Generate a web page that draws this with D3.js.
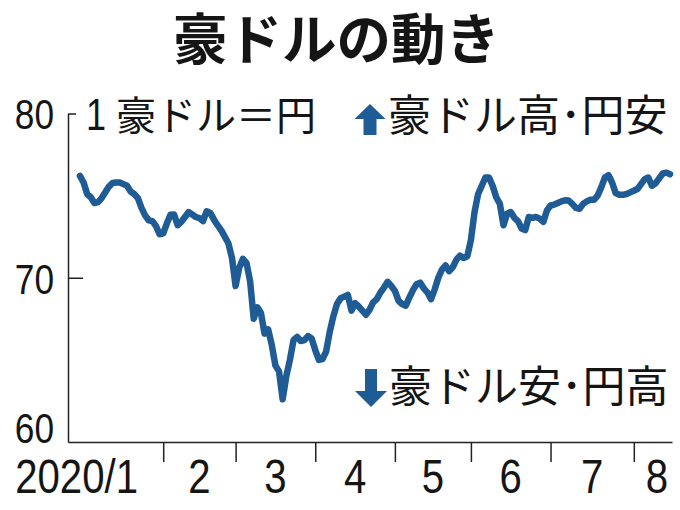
<!DOCTYPE html>
<html><head><meta charset="utf-8">
<script src="https://cdn.jsdelivr.net/npm/d3@7"></script>
<style>body{margin:0;background:#fff}</style>
</head><body><svg id="c" width="680" height="510"></svg>
<script>
const titleText = "豪ドルの動き";
const unitNum = "1";
const unitText = "豪ドル＝円";
const upText = "豪ドル高･円安";
const downText = "豪ドル安･円高";
const yTicks = [60, 70, 80];
const monthLabels = ["2020/1", "2", "3", "4", "5", "6", "7", "8"];
// AUD/JPY daily (weekday) closes from 2020-01-01
const rates = [
76.2,75.8,75.1,74.9,74.55,74.6,74.85,75.2,75.55,75.77,
75.8,75.8,75.7,75.6,75.25,75.1,74.85,74.25,73.8,73.5,
73.45,73.15,72.65,72.7,73.3,73.83,73.85,73.2,73.4,73.7,
74.0,73.85,73.7,73.63,73.45,74.05,73.95,73.55,73.2,72.9,
72.5,72.1,71.2,69.5,70.6,71.15,70.9,69.8,67.5,68.2,
67.85,66.6,66.85,65.9,64.65,64.3,62.6,64.0,65.0,66.2,
66.4,66.15,66.2,66.45,66.3,65.6,65.0,65.05,65.5,66.7,
67.65,68.4,68.75,68.85,68.95,68.0,68.45,68.25,68.0,67.75,
68.05,68.5,68.7,69.1,69.4,69.75,69.5,69.2,68.6,68.4,
68.3,68.8,69.25,69.6,69.7,69.35,69.1,68.7,69.3,70.0,
70.5,70.75,70.4,70.65,71.1,71.35,71.2,71.3,72.3,74.0,
75.1,75.6,76.1,76.1,75.6,74.9,74.5,73.2,73.9,74.0,
73.65,73.45,73.0,72.9,73.7,73.65,73.7,73.6,73.4,74.1,
74.4,74.45,74.55,74.65,74.72,74.7,74.5,74.25,74.2,74.5,
74.65,74.75,74.75,75.0,75.5,76.1,76.25,75.8,75.15,75.05,
75.05,75.1,75.2,75.3,75.4,75.7,76.0,76.1,75.6,75.75,
76.05,76.35,76.4,76.3
];

// weekday dates starting 2020-01-01
const dates = [];
for (let d = new Date(2020, 0, 1); dates.length < rates.length; d.setDate(d.getDate() + 1)) {
  if (d.getDay() % 6 !== 0) dates.push(new Date(d));
}
const data = rates.map((v, i) => ({ i, date: dates[i], v }));
const monthStarts = data.filter((p, k) => k > 0 && p.date.getMonth() !== data[k - 1].date.getMonth()).map(p => p.i);

const NUM = "'Liberation Sans',Arial,sans-serif";
const NARROW = 0.82;
const JP = "'Noto Sans CJK JP','Noto Sans CJK SC',sans-serif";
const BLUE = "#1f5b94";
const INK = "#151515";

const svg = d3.select("#c");
const x = d3.scaleLinear().domain([-3.3, 163.55]).range([68, 672]);
const y = d3.scaleLinear().domain([60, 80]).range([442, 113.5]);

// title
svg.append("text").attr("x", 336.5).attr("y", 59).attr("text-anchor", "middle")
  .attr("font-family", JP).attr("font-weight", "bold").attr("font-size", 54.5).attr("fill", INK)
  .text(titleText);

// x axis
const gx = svg.append("g").attr("transform", "translate(0,442)")
  .call(d3.axisBottom(x).tickValues(monthStarts).tickFormat("").tickSizeInner(20).tickSizeOuter(0));
gx.select(".domain").attr("stroke", "#222").attr("stroke-width", 1.5);
gx.selectAll(".tick line").attr("stroke", "#222").attr("stroke-width", 1.5);

const labelX = monthLabels.map((m, k) => {
  if (k === 0) return { x: 138, anchor: "end" };
  if (k === monthLabels.length - 1) return { x: 668, anchor: "end" };
  return { x: x((monthStarts[k - 1] + monthStarts[k]) / 2), anchor: "middle" };
});
svg.append("g").selectAll("text").data(monthLabels).join("text")
  .attr("transform", (d, k) => `translate(${labelX[k].x},493) scale(${NARROW},1)`)
  .attr("text-anchor", (d, k) => labelX[k].anchor)
  .attr("font-family", NUM).attr("font-size", 49).attr("fill", INK).text(d => d);

// y axis
const gy = svg.append("g").attr("transform", "translate(68,0)")
  .call(d3.axisLeft(y).tickValues(yTicks).tickSizeInner(-15).tickSizeOuter(0).tickPadding(14));
gy.select(".domain").attr("stroke", "#222").attr("stroke-width", 1.5);
gy.selectAll(".tick line").attr("stroke", "#222").attr("stroke-width", 1.5)
  .attr("x2", d => d === 80 ? 8 : 15).attr("display", d => d === 60 ? "none" : null);
gy.selectAll(".tick text").attr("x", 0)
  .attr("transform", `translate(-14,0) scale(${NARROW},1)`)
  .attr("font-family", NUM).attr("font-size", 43).attr("fill", INK)
  .attr("dy", d => d === 60 ? "0em" : "0.36em");

// line
const line = d3.line().x(d => x(d.i)).y(d => y(d.v));
svg.append("path").datum(data).attr("d", line).attr("fill", "none").attr("stroke", BLUE)
  .attr("stroke-width", 6.5).attr("stroke-linejoin", "round").attr("stroke-linecap", "round");

// unit note
svg.append("text").attr("transform", `translate(86,130) scale(${NARROW},1)`)
  .attr("font-family", NUM).attr("font-size", 44).attr("fill", INK).text(unitNum);
svg.append("text").attr("x", 116).attr("y", 130).attr("font-family", JP).attr("font-size", 40).attr("fill", INK).text(unitText);

// up / down notes
svg.append("path").attr("transform", "translate(370,104)")
  .attr("d", "M0,0L15.5,15L6.5,15L6.5,31L-6.5,31L-6.5,15L-15.5,15Z").attr("fill", BLUE);
svg.append("text").attr("x", 388).attr("y", 131).attr("font-family", JP).attr("font-size", 43).attr("fill", INK).text(upText);
svg.append("path").attr("transform", "translate(371,407)")
  .attr("d", "M0,0L-16,-16L-6,-16L-6,-38L6,-38L6,-16L16,-16Z").attr("fill", BLUE);
svg.append("text").attr("x", 389).attr("y", 402).attr("font-family", JP).attr("font-size", 43).attr("fill", INK).text(downText);
</script>
</body></html>
